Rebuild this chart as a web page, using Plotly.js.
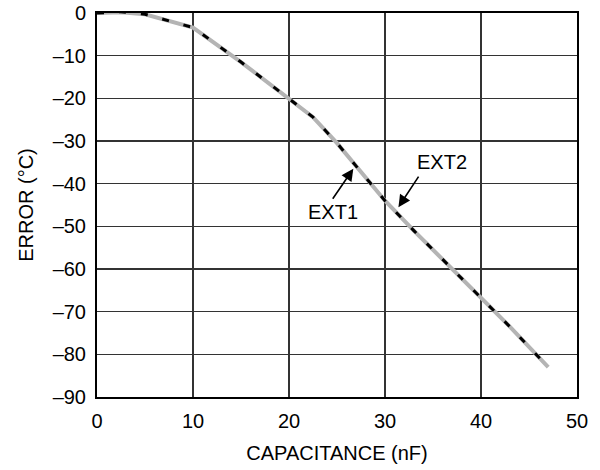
<!DOCTYPE html>
<html>
<head>
<meta charset="utf-8">
<script src="https://cdn.plot.ly/plotly-3.0.1.min.js"></script>
<style>
html,body{margin:0;padding:0;background:#fff;}
#chart{width:600px;height:470px;}
</style>
</head>
<body>
<div id="chart"></div>
<script>
// EXT2 (gray solid)
var ext2X = [0, 2.5, 5, 10, 15, 20, 22.5, 25, 28, 30, 33, 37, 40, 43, 47];
var ext2Y = [0, 0.2, -0.3, -3.4, -11.5, -20, -24.4, -30.5, -38.5, -44, -51, -60, -66.6, -73.5, -83];
// EXT1 (black dashed)
var ext1X = [0, 2.5, 5, 10, 15, 20, 22.5, 25, 28, 30, 33, 37, 40, 43, 47];
var ext1Y = [0, 0.3, -0.3, -3.4, -11.5, -20, -24.4, -30.5, -38.5, -44, -51, -60, -66.6, -73.5, -83];

var xTicks = [0, 10, 20, 30, 40, 50];
var yTicks = [0, -10, -20, -30, -40, -50, -60, -70, -80, -90];
var yTickText = ['0', '\u201310', '\u201320', '\u201330', '\u201340', '\u201350', '\u201360', '\u201370', '\u201380', '\u201390'];

var labels = ['EXT1', 'EXT2'];
var labelX = [24.6, 35.9];
var labelY = [-46.6, -34.9];
var tipX = [26.7, 31.4];
var tipY = [-36.5, -45.5];
var tailX = [24.45, 33.6];
var tailY = [-43.9, -38.0];

var font = 'Liberation Sans, Arial, Helvetica, sans-serif';

var traces = [
  {x: ext2X, y: ext2Y, mode: 'lines', line: {color: '#b4b4b4', width: 4}, hoverinfo: 'skip'},
  {x: ext1X, y: ext1Y, mode: 'lines', line: {color: '#000', width: 3, dash: '7px,15px'}, hoverinfo: 'skip'}
];

var annotations = labels.map(function (t, i) {
  return {
    x: tipX[i], y: tipY[i], xref: 'x', yref: 'y',
    ax: tailX[i], ay: tailY[i], axref: 'x', ayref: 'y',
    showarrow: true, arrowhead: 2, arrowsize: 1.5, arrowwidth: 1.6, arrowcolor: '#000',
    text: ''
  };
}).concat(labels.map(function (t, i) {
  return {
    x: labelX[i], y: labelY[i], xref: 'x', yref: 'y',
    text: t, showarrow: false, bgcolor: '#fff',
    font: {family: font, size: 20, color: '#000'}
  };
}));

var layout = {
  width: 600, height: 470,
  margin: {l: 97, r: 22.5, t: 12.7, b: 73.3},
  paper_bgcolor: '#fff', plot_bgcolor: '#fff',
  showlegend: false,
  font: {family: font, size: 20, color: '#000'},
  xaxis: {
    range: [0, 50], tickvals: xTicks, ticks: '', ticklabelstandoff: 5,
    showgrid: true, gridcolor: '#333', gridwidth: 1.3,
    showline: true, linecolor: '#000', linewidth: 2, mirror: true,
    zeroline: false, fixedrange: true,
    title: {text: 'CAPACITANCE (nF)', font: {family: font, size: 20}, standoff: 15}
  },
  yaxis: {
    range: [-90, 0], tickvals: yTicks, ticktext: yTickText, ticks: '', ticklabelstandoff: 5,
    showgrid: true, gridcolor: '#333', gridwidth: 1.3,
    showline: true, linecolor: '#000', linewidth: 2, mirror: true,
    zeroline: false, fixedrange: true,
    title: {text: 'ERROR (°C)', font: {family: font, size: 20}, standoff: 14}
  },
  annotations: annotations
};

Plotly.newPlot('chart', traces, layout, {displayModeBar: false, staticPlot: true});
</script>
</body>
</html>
